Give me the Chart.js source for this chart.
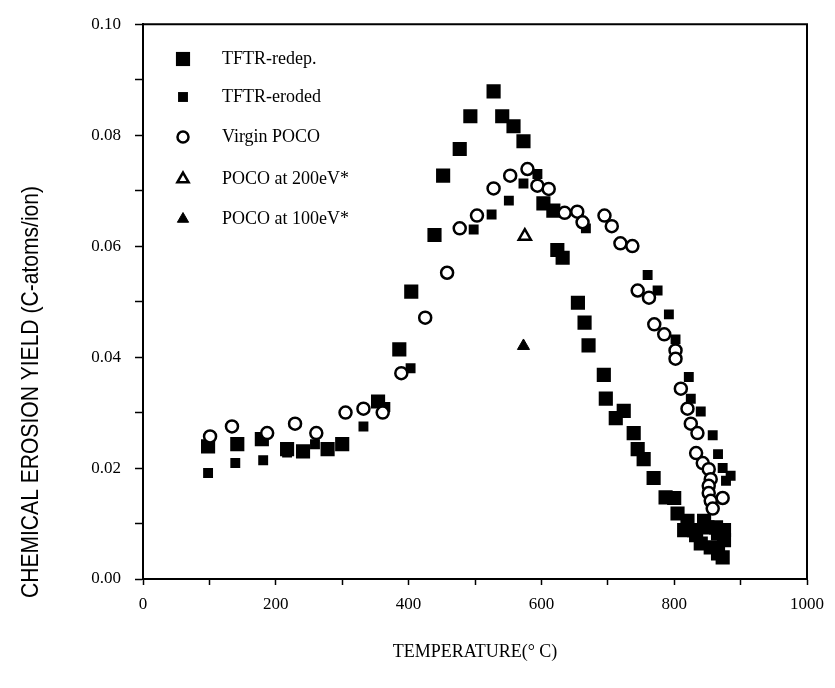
<!DOCTYPE html>
<html>
<head>
<meta charset="utf-8">
<script src="https://cdn.jsdelivr.net/npm/chart.js@4/dist/chart.umd.min.js"></script>
<style>
html,body{margin:0;padding:0;background:#fff;}
#wrap{width:835px;height:688px;position:relative;}
</style>
</head>
<body>
<div id="wrap"><canvas id="c" width="835" height="688"></canvas></div>
<script>
// ---- data ----
const redepT = [98,142,179,217,241,278,300,354,386,404,439,452,477,493,528,541,558,573,603,618,624,632,655,665,671,694,697,712,724,739,745,754,769,787,800,805,815,820,830,833,840,845,850,855,863,866,866,873,875,875];
const redepY = [0.0239,0.0243,0.0252,0.0234,0.0230,0.0234,0.0243,0.0320,0.0414,0.0518,0.0620,0.0727,0.0775,0.0834,0.0879,0.0834,0.0816,0.0789,0.0677,0.0664,0.0593,0.0579,0.0498,0.0462,0.0421,0.0368,0.0325,0.0290,0.0303,0.0263,0.0234,0.0216,0.0182,0.0147,0.0146,0.0118,0.0088,0.0105,0.0088,0.0079,0.0064,0.0105,0.0093,0.0057,0.0093,0.0046,0.0082,0.0039,0.0088,0.0070];

const erodedT = [98,139,181,217,259,332,365,403,498,525,551,573,594,667,760,775,792,802,822,825,840,858,866,873,885,878];
const erodedY = [0.0191,0.0209,0.0214,0.0228,0.0243,0.0275,0.0310,0.0380,0.0630,0.0657,0.0682,0.0713,0.0730,0.0632,0.0548,0.0520,0.0477,0.0432,0.0364,0.0325,0.0302,0.0259,0.0225,0.0200,0.0186,0.0177];

const virginT = [101,134,187,229,261,305,332,361,389,425,458,477,503,528,553,579,594,611,635,654,662,695,706,719,737,745,762,770,785,802,802,810,820,825,835,833,843,852,855,852,852,873,855,858];
const virginY = [0.0257,0.0275,0.0263,0.0280,0.0263,0.0300,0.0307,0.0300,0.0371,0.0471,0.0552,0.0632,0.0655,0.0704,0.0727,0.0739,0.0709,0.0703,0.0660,0.0662,0.0643,0.0655,0.0636,0.0605,0.0600,0.0520,0.0507,0.0459,0.0441,0.0412,0.0397,0.0343,0.0307,0.0280,0.0263,0.0227,0.0209,0.0198,0.0180,0.0168,0.0155,0.0146,0.0141,0.0127];

const poco200T = [575];
const poco200Y = [0.0618];
const poco100T = [573];
const poco100Y = [0.0420];

const seriesLabels = ['TFTR-redep.','TFTR-eroded','Virgin POCO','POCO at 200eV*','POCO at 100eV*'];
const xTitle = 'TEMPERATURE(\u00B0 C)';
const yTitle = 'CHEMICAL EROSION YIELD (C-atoms/ion)';

function pts(xs, ys){ return xs.map((x,i)=>({x:x, y:ys[i]})); }

// ---- plugins ----
const frame = {
  id:'frame',
  afterDraw(chart){
    const {ctx, chartArea:a} = chart;
    ctx.save();
    ctx.strokeStyle='#000'; ctx.lineWidth=2;
    ctx.beginPath();
    ctx.moveTo(a.left, a.top); ctx.lineTo(a.right, a.top); ctx.lineTo(a.right, a.bottom);
    ctx.stroke();
    ctx.restore();
  }
};
const yTitlePlugin = {
  id:'ytitle',
  afterDraw(chart){
    const ctx = chart.ctx;
    ctx.save();
    ctx.translate(31, 392);
    ctx.rotate(-Math.PI/2);
    ctx.font = '24px "Liberation Sans Narrow", "Liberation Sans", Arial, sans-serif';
    const w = ctx.measureText(yTitle).width;
    const target = 412;
    ctx.scale(Math.min(1, target / w), 1);
    ctx.fillStyle = '#000';
    ctx.textAlign = 'center';
    ctx.textBaseline = 'middle';
    ctx.fillText(yTitle, 0, 0);
    ctx.restore();
  }
};
const legendPlugin = {
  id:'inlegend',
  afterDraw(chart){
    const ctx = chart.ctx;
    const rows = [59, 97, 137, 179, 219];
    const sizes = [10, 7, 5.5, 6.5, 6.5];
    ctx.save();
    chart.data.datasets.forEach((ds,i)=>{
      const opts = {
        pointStyle: ds.pointStyle, radius: sizes[i], rotation: 0,
        borderWidth: ds.pointBorderWidth || 0
      };
      ctx.fillStyle = ds.pointBackgroundColor;
      ctx.strokeStyle = ds.pointBorderColor;
      ctx.lineWidth = ds.pointBorderWidth || 0;
      Chart.helpers.drawPoint(ctx, opts, 183, rows[i]);
      ctx.fillStyle = '#000';
      ctx.font = '18px "Liberation Serif", "Times New Roman", serif';
      ctx.textAlign = 'left';
      ctx.textBaseline = 'middle';
      ctx.fillText(ds.label, 222, rows[i]);
    });
    ctx.restore();
  }
};

const serifTicks = {family:'"Liberation Serif", "Times New Roman", serif', size:17};

new Chart(document.getElementById('c'), {
  type:'scatter',
  data:{
    datasets:[
      {label:seriesLabels[0], data:pts(redepT, redepY), pointStyle:'rect', pointRadius:10, pointBackgroundColor:'#000', pointBorderColor:'#000', pointBorderWidth:0, order:2},
      {label:seriesLabels[1], data:pts(erodedT, erodedY), pointStyle:'rect', pointRadius:7, pointBackgroundColor:'#000', pointBorderColor:'#000', pointBorderWidth:0, order:2},
      {label:seriesLabels[2], data:pts(virginT, virginY), pointStyle:'circle', pointRadius:6, pointBackgroundColor:'#fff', pointBorderColor:'#000', pointBorderWidth:2.5, order:1},
      {label:seriesLabels[3], data:pts(poco200T, poco200Y), pointStyle:'triangle', pointRadius:7, pointBackgroundColor:'#fff', pointBorderColor:'#000', pointBorderWidth:2.5, order:1},
      {label:seriesLabels[4], data:pts(poco100T, poco100Y), pointStyle:'triangle', pointRadius:7, pointBackgroundColor:'#000', pointBorderColor:'#000', pointBorderWidth:1, order:1}
    ]
  },
  options:{
    responsive:false,
    animation:false,
    events:[],
    layout:{padding:{top:18, right:28, left:0, bottom:0}},
    plugins:{legend:{display:false}, tooltip:{enabled:false}},
    scales:{
      x:{
        type:'linear', min:0, max:1000,
        afterFit(s){ s.height = 109; },
        ticks:{stepSize:100, color:'#000', font:serifTicks, padding:9, maxRotation:0, autoSkip:false,
          callback:(v)=> (Math.round(v)%200===0 ? String(Math.round(v)) : '')},
        grid:{display:true, drawOnChartArea:false, drawTicks:true, tickLength:6, color:'#000', tickWidth:1.5},
        border:{display:true, color:'#000', width:2},
        title:{display:true, text:xTitle, color:'#000', font:{family:'"Liberation Serif", "Times New Roman", serif', size:18}, padding:{top:0, bottom:25}}
      },
      y:{
        type:'linear', min:0, max:0.1,
        afterFit(s){ s.width = 143; },
        ticks:{stepSize:0.01, color:'#000', font:serifTicks, padding:14, autoSkip:false,
          callback:(v)=> (Math.round(v*100)%2===0 ? v.toFixed(2) : '')},
        grid:{display:true, drawOnChartArea:false, drawTicks:true, tickLength:8, color:'#000', tickWidth:1.5},
        border:{display:true, color:'#000', width:2}
      }
    }
  },
  plugins:[frame, yTitlePlugin, legendPlugin]
});
</script>
</body>
</html>
